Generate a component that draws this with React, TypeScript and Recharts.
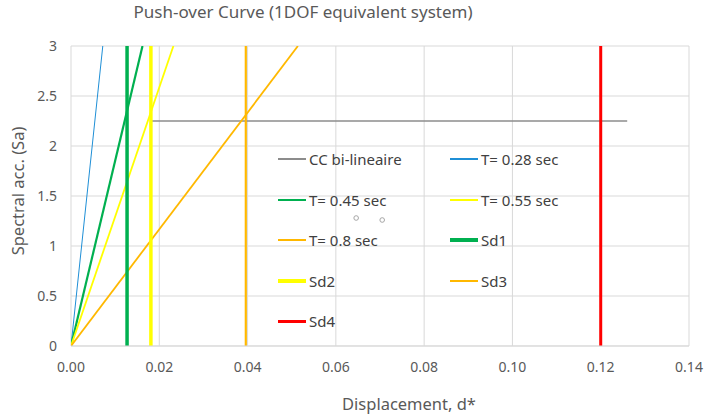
import React from 'react'
import {
  ComposedChart,
  Line,
  Scatter,
  XAxis,
  YAxis,
  CartesianGrid,
} from 'recharts'

// Values (displacement d*, spectral acc. Sa)
const X_TICKS = [0, 0.02, 0.04, 0.06, 0.08, 0.1, 0.12, 0.14]
const Y_TICKS = [0, 0.5, 1, 1.5, 2, 2.5, 3]

// bi-linear capacity curve, only the plateau is visible
const CC_X = [0.0183, 0.126]
const CC_Y = [2.25, 2.25]

// period lines start at the origin and leave the plot at Sa = 3
const PERIOD_NAMES = ['T= 0.28 sec', 'T= 0.45 sec', 'T= 0.55 sec', 'T= 0.8 sec']
const PERIOD_TOP_X = [0.0072, 0.0162, 0.0232, 0.0514]
const PERIOD_TOP_Y = [3, 3, 3, 3]

// demand displacements (vertical lines)
const SD_NAMES = ['Sd1', 'Sd2', 'Sd3', 'Sd4']
const SD_X = [0.0127, 0.0181, 0.0396, 0.12]

// two stray markers in the plot
const DOT_X = [0.0646, 0.0705]
const DOT_Y = [1.28, 1.26]

const PERIOD_STYLE = [
  { color: '#1f8fd6', width: 1, legend: 2 },
  { color: '#00b050', width: 2.2, legend: 2 },
  { color: '#ffff00', width: 1.8, legend: 2 },
  { color: '#ffb800', width: 1.8, legend: 2 },
]
const SD_STYLE = [
  { color: '#00b050', width: 3.5, legend: 4 },
  { color: '#ffff00', width: 3.5, legend: 4 },
  { color: '#ffb800', width: 2.2, legend: 2 },
  { color: '#ff0000', width: 3, legend: 3 },
]
const CC_STYLE = { color: '#8c8c8c', width: 1.5, legend: 2 }

const FONT = '"Noto Sans", "Open Sans", sans-serif'
const TEXT = '#595959'

const ccData = CC_X.map((x, i) => ({ x, y: CC_Y[i] }))
const periodData = PERIOD_TOP_X.map((x, i) => [
  { x: 0, y: 0 },
  { x, y: PERIOD_TOP_Y[i] },
])
const sdData = SD_X.map((x) => [
  { x, y: 0 },
  { x, y: 3 },
])
const dotData = DOT_X.map((x, i) => ({ x, y: DOT_Y[i] }))

const legendItems = [
  { name: 'CC bi-lineaire', ...CC_STYLE },
  { name: PERIOD_NAMES[0], ...PERIOD_STYLE[0] },
  { name: PERIOD_NAMES[1], ...PERIOD_STYLE[1] },
  { name: PERIOD_NAMES[2], ...PERIOD_STYLE[2] },
  { name: PERIOD_NAMES[3], ...PERIOD_STYLE[3] },
  { name: SD_NAMES[0], ...SD_STYLE[0] },
  { name: SD_NAMES[1], ...SD_STYLE[1] },
  { name: SD_NAMES[2], ...SD_STYLE[2] },
  { name: SD_NAMES[3], ...SD_STYLE[3] },
]

function LegendBox() {
  return (
    <div
      style={{
        position: 'absolute',
        left: 278,
        top: 148,
        display: 'grid',
        gridTemplateColumns: '172px 160px',
        rowGap: 18.5,
        fontFamily: FONT,
        fontSize: 15,
        color: '#404040',
      }}
    >
      {legendItems.map((it) => (
        <div key={it.name} style={{ display: 'flex', alignItems: 'center', height: 22 }}>
          <span
            style={{
              display: 'inline-block',
              width: 28,
              height: it.legend,
              background: it.color,
              marginRight: 3,
            }}
          />
          <span>{it.name}</span>
        </div>
      ))}
    </div>
  )
}

export default function App() {
  return (
    <div style={{ position: 'absolute', left: 0, top: 0, width: 706, height: 417, background: '#fff' }}>
      <div
        style={{
          position: 'absolute',
          left: 303,
          top: 11,
          transform: 'translate(-50%, -50%)',
          whiteSpace: 'nowrap',
          fontFamily: FONT,
          fontSize: 17,
          color: TEXT,
        }}
      >
        Push-over Curve (1DOF equivalent system)
      </div>
      <ComposedChart
        width={706}
        height={417}
        margin={{ top: 46, right: 17, bottom: 41, left: 0 }}
      >
        <CartesianGrid stroke="#d9d9d9" strokeWidth={1} />
        <XAxis
          type="number"
          dataKey="x"
          domain={[0, 0.14]}
          ticks={X_TICKS}
          tickFormatter={(v) => v.toFixed(2)}
          height={30}
          axisLine={{ stroke: '#d9d9d9' }}
          tickLine={false}
          tickSize={6}
          tickMargin={10}
          tick={{ fontSize: 14, fill: TEXT, fontFamily: FONT }}
          allowDataOverflow
        />
        <YAxis
          type="number"
          dataKey="y"
          domain={[0, 3]}
          ticks={Y_TICKS}
          width={71}
          axisLine={false}
          tickLine={false}
          tickSize={6}
          tickMargin={8}
          tick={{ fontSize: 14, fill: TEXT, fontFamily: FONT }}
          allowDataOverflow
        />
        <Line
          data={ccData}
          dataKey="y"
          stroke={CC_STYLE.color}
          strokeWidth={CC_STYLE.width}
          dot={false}
          isAnimationActive={false}
        />
        {periodData.map((d, i) => (
          <Line
            key={PERIOD_NAMES[i]}
            data={d}
            dataKey="y"
            stroke={PERIOD_STYLE[i].color}
            strokeWidth={PERIOD_STYLE[i].width}
            dot={false}
            isAnimationActive={false}
          />
        ))}
        {sdData.map((d, i) => (
          <Line
            key={SD_NAMES[i]}
            data={d}
            dataKey="y"
            stroke={SD_STYLE[i].color}
            strokeWidth={SD_STYLE[i].width}
            dot={false}
            isAnimationActive={false}
          />
        ))}
        <Scatter
          data={dotData}
          dataKey="y"
          fill="none"
          isAnimationActive={false}
          shape={(p: any) => (
            <circle cx={p.cx} cy={p.cy} r={2.3} fill="none" stroke="#a6a6a6" strokeWidth={1} />
          )}
        />
      </ComposedChart>
      <div
        style={{
          position: 'absolute',
          left: 17,
          top: 191,
          transform: 'translate(-50%, -50%) rotate(-90deg)',
          whiteSpace: 'nowrap',
          fontFamily: FONT,
          fontSize: 16.5,
          color: TEXT,
        }}
      >
        Spectral acc. (Sa)
      </div>
      <div
        style={{
          position: 'absolute',
          left: 409,
          top: 403,
          transform: 'translate(-50%, -50%)',
          whiteSpace: 'nowrap',
          fontFamily: FONT,
          fontSize: 16.5,
          color: TEXT,
        }}
      >
        Displacement, d*
      </div>
      <LegendBox />
    </div>
  )
}
